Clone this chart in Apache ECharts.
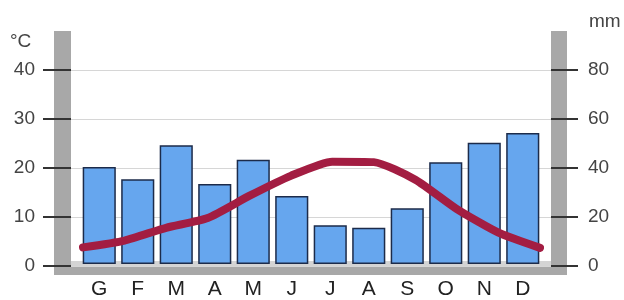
<!DOCTYPE html>
<html>
<head>
<meta charset="utf-8">
<script src="https://cdn.jsdelivr.net/npm/echarts@6/dist/echarts.min.js"></script>
<style>
  html, body { margin: 0; padding: 0; background: #fff; }
  #chart { width: 624px; height: 300px; }
</style>
</head>
<body>
<div id="chart"></div>
<script>
// mesi (iniziali italiane)
var months = ['G', 'F', 'M', 'A', 'M', 'J', 'J', 'A', 'S', 'O', 'N', 'D']
// precipitazioni mensili (mm)
var rain = [40, 35, 49, 33, 43, 28, 16, 15, 23, 42, 50, 54]
// temperature medie (°C)
var temp = [3.8, 5.2, 7.8, 9.8, 14.3, 18.4, 21.3, 21.2, 17.6, 11.6, 6.8, 3.7]
// tacche degli assi
var tempTicks = [0, 10, 20, 30, 40]
var rainTicks = [0, 20, 40, 60, 80]

var myChart = echarts.init(document.getElementById('chart'), null, { renderer: 'canvas' })

var labelFont = 'Liberation Sans, Arial, sans-serif'
var frameGrey = '#a8a8a8'

var option = {
  animation: false,
  backgroundColor: '#fff',
  // cornice grigia a U
  graphic: [
    { type: 'rect', z: -10, shape: { x: 54, y: 31, width: 17, height: 244 }, style: { fill: frameGrey } },
    { type: 'rect', z: -10, shape: { x: 551, y: 31, width: 16, height: 244 }, style: { fill: frameGrey } },
    { type: 'rect', z: -10, shape: { x: 54, y: 266, width: 513, height: 9 }, style: { fill: frameGrey } },
    { type: 'rect', z: -11, shape: { x: 71, y: 261, width: 480, height: 5 }, style: { fill: '#d4d4d4' } },
    { type: 'text', left: 10, top: 32, style: { text: '°C', fontSize: 19, fill: '#444', fontFamily: labelFont } },
    { type: 'text', left: 589, top: 12, style: { text: 'mm', fontSize: 19, fill: '#444', fontFamily: labelFont } }
  ],
  grid: [
    { left: 71, right: 73, top: 70, bottom: 34 },
    { left: 80, right: 82, top: 70, bottom: 34 },
    { left: 83, right: 84, top: 70, bottom: 34 }
  ],
  xAxis: [
    { type: 'category', gridIndex: 0, data: months, show: false },
    {
      type: 'category',
      gridIndex: 1,
      data: months,
      axisLine: { show: false },
      axisTick: { show: false },
      axisLabel: { color: '#222', fontSize: 21, fontFamily: labelFont, margin: 15 }
    },
    { type: 'category', gridIndex: 2, data: months, boundaryGap: false, show: false }
  ],
  yAxis: [
    {
      type: 'value',
      gridIndex: 0,
      min: tempTicks[0],
      max: tempTicks[tempTicks.length - 1],
      interval: 10,
      axisLine: { show: false },
      axisTick: { show: true, length: 28, lineStyle: { color: '#333', width: 2 } },
      axisLabel: { color: '#444', fontSize: 19, fontFamily: labelFont, margin: 36 },
      splitLine: { show: true, lineStyle: { color: '#d6d6d6', width: 1 } }
    },
    {
      type: 'value',
      gridIndex: 0,
      position: 'right',
      min: rainTicks[0],
      max: rainTicks[rainTicks.length - 1],
      interval: 20,
      axisLine: { show: false },
      axisTick: { show: true, length: 27, lineStyle: { color: '#333', width: 2 } },
      axisLabel: { color: '#444', fontSize: 19, fontFamily: labelFont, margin: 37 },
      splitLine: { show: false }
    },
    { type: 'value', gridIndex: 1, min: 0, max: 80, show: false },
    { type: 'value', gridIndex: 2, min: 0, max: 40, show: false }
  ],
  series: [
    {
      name: 'mm',
      type: 'bar',
      xAxisIndex: 1,
      yAxisIndex: 2,
      barCategoryGap: '14%',
      itemStyle: { color: '#66a6ee', borderColor: '#1c2b4a', borderWidth: 1.5 },
      data: rain
    },
    {
      name: '°C',
      type: 'line',
      xAxisIndex: 2,
      yAxisIndex: 3,
      smooth: 0.2,
      symbol: 'none',
      lineStyle: { color: '#a31d42', width: 8, cap: 'round', join: 'round' },
      data: temp
    }
  ]
}

if (option && typeof option === 'object') {
  myChart.setOption(option)
}
</script>
</body>
</html>
